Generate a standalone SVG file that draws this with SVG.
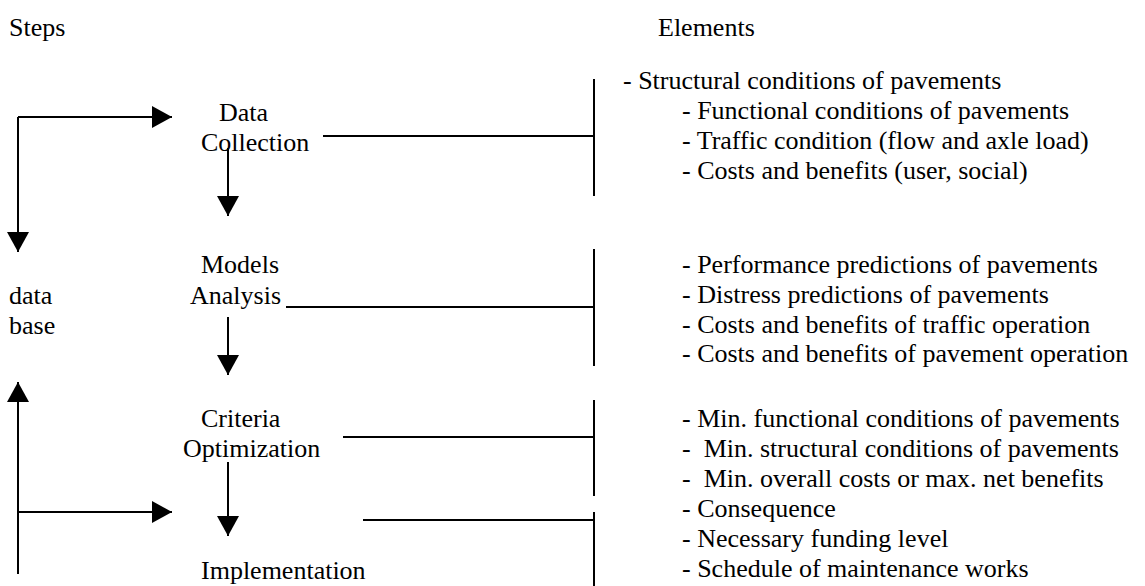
<svg xmlns="http://www.w3.org/2000/svg" width="1145" height="586" viewBox="0 0 1145 586">
<style>
text{font-family:"Liberation Serif","Times New Roman",serif;font-size:26px;fill:#000}
.ln{stroke:#000;stroke-width:2;fill:none}
.ar{stroke:#000;stroke-width:2;fill:none;marker-end:url(#ah)}
</style>
<defs>
<marker id="ah" markerUnits="userSpaceOnUse" markerWidth="22" markerHeight="22" viewBox="0 0 20 22" refX="20" refY="11" orient="auto">
<path d="M0,0 L20,11 L0,22 Z" fill="#000"/>
</marker>
</defs>
<rect width="1145" height="586" fill="#fff"/>
<g id="headers">
<text x="9" y="36">Steps</text>
<text x="658" y="36">Elements</text>
</g>
<g id="node-database"><text x="9" y="304">data</text><text x="9" y="334">base</text></g>
<g id="node-data-collection"><text x="219" y="121">Data</text><text x="201" y="151">Collection</text></g>
<g id="node-models-analysis"><text x="201" y="273">Models</text><text x="190" y="304">Analysis</text></g>
<g id="node-criteria-optimization"><text x="201" y="427">Criteria</text><text x="183" y="457">Optimization</text></g>
<g id="node-implementation"><text x="201" y="579">Implementation</text></g>
<g id="elements-collection">
<text x="623" y="89">- Structural conditions of pavements</text>
<text x="682" y="119">- Functional conditions of pavements</text>
<text x="682" y="149">- Traffic condition (flow and axle load)</text>
<text x="682" y="179">- Costs and benefits (user, social)</text>
</g>
<g id="elements-analysis">
<text x="682" y="273">- Performance predictions of pavements</text>
<text x="682" y="303">- Distress predictions of pavements</text>
<text x="682" y="333">- Costs and benefits of traffic operation</text>
<text x="682" y="362">- Costs and benefits of pavement operation</text>
</g>
<g id="elements-optimization">
<text x="682" y="427">- Min. functional conditions of pavements</text>
<text x="682" y="457" xml:space="preserve">-  Min. structural conditions of pavements</text>
<text x="682" y="487" xml:space="preserve">-  Min. overall costs or max. net benefits</text>
</g>
<g id="elements-implementation">
<text x="682" y="517">- Consequence</text>
<text x="682" y="547">- Necessary funding level</text>
<text x="682" y="577">- Schedule of maintenance works</text>
</g>
<g id="connectors">
<path class="ar" d="M18,117 L18,252"/>
<path class="ar" d="M18,117 L172,117"/>
<path class="ar" d="M228,148 L228,216"/>
<path class="ar" d="M228,317 L228,375"/>
<path class="ar" d="M228,462 L228,536"/>
<path class="ar" d="M18,574 L18,382"/>
<path class="ar" d="M18,512 L172,512"/>
<path class="ln" d="M323,136 L594,136"/>
<path class="ln" d="M286,307 L594,307"/>
<path class="ln" d="M343,437 L594,437"/>
<path class="ln" d="M363,520 L594,520"/>
<path class="ln" d="M594,79 L594,196"/>
<path class="ln" d="M594,249 L594,366"/>
<path class="ln" d="M594,400 L594,496"/>
<path class="ln" d="M594,512 L594,586"/>
</g>
</svg>
